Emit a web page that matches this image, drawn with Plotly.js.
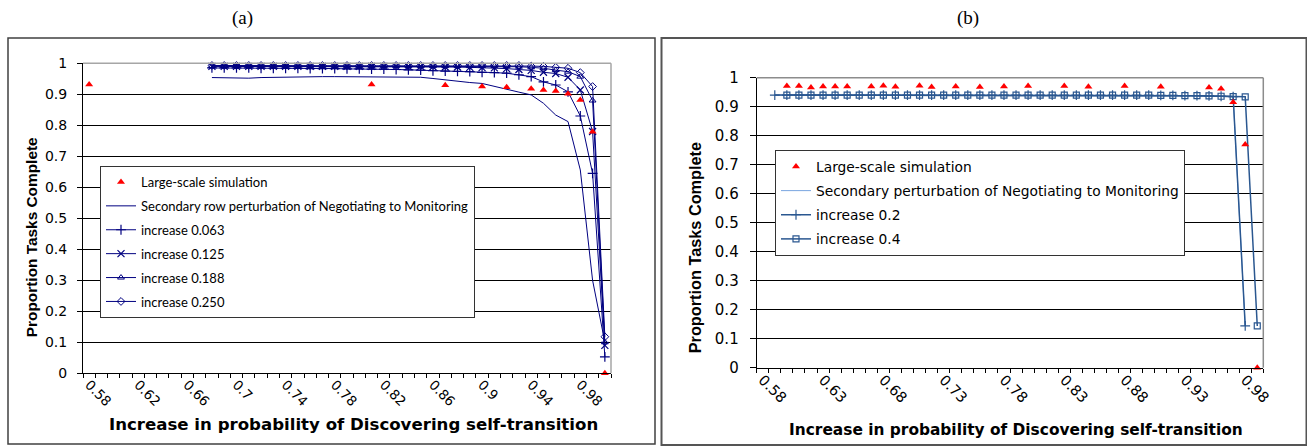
<!DOCTYPE html>
<html>
<head>
<meta charset="utf-8">
<script src="https://cdn.plot.ly/plotly-3.0.1.min.js"></script>
<style>html,body{margin:0;padding:0;background:#fff;}#chart{width:1307px;height:447px;}</style>
</head>
<body>
<div id="chart"></div>
<script>
// ---------- Panel (a) data ----------
const catsA = [0.68,0.69,0.70,0.71,0.72,0.73,0.74,0.75,0.76,0.77,0.78,0.79,0.80,0.81,0.82,0.83,0.84,0.85,0.86,0.87,0.88,0.89,0.90,0.91,0.92,0.93,0.94,0.95,0.96,0.97,0.98,0.99,1.00];
const simAx = [0.58,0.81,0.87,0.90,0.92,0.94,0.95,0.96,0.97,0.98,0.99,1.00];
const simAy = [0.932,0.932,0.929,0.925,0.923,0.918,0.914,0.911,0.902,0.882,0.779,0.0];
const secondaryA = [0.954,0.953,0.951,0.952,0.954,0.955,0.956,0.957,0.957,0.957,0.957,0.957,0.957,0.957,0.957,0.957,0.956,0.955,0.951,0.946,0.941,0.938,0.935,0.925,0.916,0.907,0.898,0.871,0.833,0.812,0.656,0.300,0.100];
const inc063 = [0.985,0.985,0.985,0.985,0.984,0.984,0.984,0.984,0.983,0.983,0.983,0.982,0.982,0.981,0.981,0.980,0.979,0.978,0.976,0.975,0.974,0.973,0.971,0.970,0.968,0.963,0.957,0.940,0.930,0.908,0.830,0.645,0.053];
const inc125 = [0.990,0.990,0.990,0.990,0.990,0.990,0.990,0.990,0.990,0.990,0.990,0.990,0.990,0.990,0.990,0.990,0.990,0.990,0.989,0.988,0.988,0.987,0.986,0.985,0.983,0.980,0.977,0.971,0.967,0.955,0.914,0.780,0.090];
const inc188 = [0.991,0.991,0.991,0.991,0.991,0.991,0.991,0.991,0.991,0.991,0.991,0.991,0.991,0.991,0.991,0.991,0.991,0.991,0.991,0.991,0.991,0.991,0.991,0.991,0.991,0.989,0.987,0.984,0.978,0.973,0.957,0.880,0.100];
const inc250 = [0.993,0.993,0.993,0.993,0.993,0.993,0.993,0.993,0.993,0.993,0.993,0.993,0.993,0.993,0.993,0.993,0.993,0.993,0.993,0.993,0.993,0.993,0.993,0.993,0.993,0.993,0.991,0.990,0.987,0.984,0.970,0.925,0.118];
const tickValsA = [0.58,0.62,0.66,0.70,0.74,0.78,0.82,0.86,0.90,0.94,0.98];
const tickTextA = ['0.58','0.62','0.66','0.7','0.74','0.78','0.82','0.86','0.9','0.94','0.98'];

// ---------- Panel (b) data ----------
const simBx = [0.60,0.61,0.62,0.63,0.64,0.65,0.67,0.68,0.69,0.71,0.72,0.74,0.76,0.78,0.80,0.83,0.85,0.88,0.91,0.95,0.96,0.97,0.98,0.99];
const simBy = [0.971,0.971,0.966,0.970,0.970,0.970,0.970,0.972,0.969,0.972,0.968,0.970,0.968,0.970,0.971,0.971,0.969,0.971,0.969,0.966,0.962,0.915,0.770,0.0];
const catsB2 = [0.59,0.60,0.61,0.62,0.63,0.64,0.65,0.66,0.67,0.68,0.69,0.70,0.71,0.72,0.73,0.74,0.75,0.76,0.77,0.78,0.79,0.80,0.81,0.82,0.83,0.84,0.85,0.86,0.87,0.88,0.89,0.90,0.91,0.92,0.93,0.94,0.95,0.96,0.97,0.98];
const secondaryB = [0.940,0.940,0.940,0.940,0.940,0.940,0.940,0.940,0.940,0.940,0.940,0.940,0.940,0.940,0.940,0.940,0.940,0.940,0.940,0.940,0.940,0.940,0.940,0.940,0.940,0.940,0.940,0.940,0.940,0.940,0.940,0.940,0.939,0.939,0.938,0.938,0.937,0.936,0.935,0.144];
const inc02 = [0.940,0.940,0.940,0.940,0.940,0.940,0.940,0.940,0.940,0.940,0.940,0.940,0.940,0.940,0.940,0.940,0.940,0.940,0.940,0.940,0.940,0.940,0.940,0.940,0.940,0.940,0.940,0.940,0.940,0.940,0.940,0.940,0.939,0.939,0.938,0.938,0.937,0.936,0.935,0.144];
const catsB4 = [0.60,0.61,0.62,0.63,0.64,0.65,0.66,0.67,0.68,0.69,0.70,0.71,0.72,0.73,0.74,0.75,0.76,0.77,0.78,0.79,0.80,0.81,0.82,0.83,0.84,0.85,0.86,0.87,0.88,0.89,0.90,0.91,0.92,0.93,0.94,0.95,0.96,0.97,0.98,0.99];
const inc04 = [0.940,0.940,0.940,0.940,0.940,0.940,0.940,0.940,0.940,0.940,0.940,0.940,0.940,0.940,0.940,0.940,0.940,0.940,0.940,0.940,0.940,0.940,0.940,0.940,0.940,0.940,0.940,0.940,0.940,0.940,0.940,0.939,0.939,0.938,0.938,0.937,0.936,0.935,0.934,0.144];
const tickValsB = [0.58,0.63,0.68,0.73,0.78,0.83,0.88,0.93,0.98];
const tickTextB = ['0.58','0.63','0.68','0.73','0.78','0.83','0.88','0.93','0.98'];

const NAVY = '#000080';
const BLUE = '#2a5790';
const LIGHT = '#7aa6e0';
const RED = '#ff0000';

const traces = [
  {x: simAx, y: simAy, name: 'Large-scale simulation', mode: 'markers', xaxis: 'x3', yaxis: 'y', legend: 'legend', legendgroup: 'a1', cliponaxis: false,
   marker: {symbol: 'triangle-up', color: RED, size: 7}},
  {x: catsA, y: secondaryA, name: 'Secondary row perturbation of Negotiating to Monitoring', mode: 'lines', xaxis: 'x', yaxis: 'y', legend: 'legend', legendgroup: 'a2',
   line: {color: NAVY, width: 1}},
  {x: catsA, y: inc063, name: 'increase 0.063', mode: 'lines+markers', xaxis: 'x', yaxis: 'y', legend: 'legend', legendgroup: 'a3', cliponaxis: false,
   line: {color: NAVY, width: 1}, marker: {symbol: 'cross-thin-open', size: 7, color: NAVY, line: {color: NAVY, width: 1.2}}},
  {x: catsA, y: inc125, name: 'increase 0.125', mode: 'lines+markers', xaxis: 'x', yaxis: 'y', legend: 'legend', legendgroup: 'a4', cliponaxis: false,
   line: {color: NAVY, width: 1}, marker: {symbol: 'x-thin-open', size: 7, color: NAVY, line: {color: NAVY, width: 1.2}}},
  {x: catsA, y: inc188, name: 'increase 0.188', mode: 'lines+markers', xaxis: 'x', yaxis: 'y', legend: 'legend', legendgroup: 'a5', cliponaxis: false,
   line: {color: NAVY, width: 1}, marker: {symbol: 'triangle-up-open', size: 6, color: NAVY, line: {color: NAVY, width: 1}}},
  {x: catsA, y: inc250, name: 'increase 0.250', mode: 'lines+markers', xaxis: 'x', yaxis: 'y', legend: 'legend', legendgroup: 'a6', cliponaxis: false,
   line: {color: NAVY, width: 1}, marker: {symbol: 'diamond-open', size: 6, color: NAVY, line: {color: NAVY, width: 1}}},

  {x: simBx, y: simBy, name: 'Large-scale simulation', mode: 'markers', xaxis: 'x4', yaxis: 'y2', legend: 'legend2', legendgroup: 'b1', cliponaxis: false,
   marker: {symbol: 'triangle-up', color: RED, size: 7}},
  {x: catsB2, y: secondaryB, name: 'Secondary perturbation of Negotiating to Monitoring', mode: 'lines', xaxis: 'x2', yaxis: 'y2', legend: 'legend2', legendgroup: 'b2',
   line: {color: LIGHT, width: 1}},
  {x: catsB2, y: inc02, name: 'increase 0.2', mode: 'lines+markers', xaxis: 'x2', yaxis: 'y2', legend: 'legend2', legendgroup: 'b3', cliponaxis: false,
   line: {color: BLUE, width: 1.5}, marker: {symbol: 'cross-thin-open', size: 7, color: BLUE, line: {color: BLUE, width: 1.2}}},
  {x: catsB4, y: inc04, name: 'increase 0.4', mode: 'lines+markers', xaxis: 'x2', yaxis: 'y2', legend: 'legend2', legendgroup: 'b4', cliponaxis: false,
   line: {color: BLUE, width: 1.5}, marker: {symbol: 'square-open', size: 6, color: BLUE, line: {color: BLUE, width: 1.2}}}
];

const W = 1307, H = 447;
const px = v => v / W;
const py = v => 1 - v / H;

// main x axis: category-boundary tick marks only (Excel style)
function xAxis(range, dom, anchor) {
  return {
    domain: dom, range: range, type: 'linear', anchor: anchor,
    tickmode: 'linear', tick0: 0.575, dtick: 0.01, ticks: 'outside', ticklen: 4, tickcolor: '#000', tickwidth: 1,
    showticklabels: false,
    showline: true, linecolor: '#000', linewidth: 1, showgrid: false, zeroline: false, fixedrange: true
  };
}
// overlay x axis (same range) carrying the rotated category labels
function xLabelAxis(range, over, anchor, tv, tt, fs) {
  return {
    overlaying: over, anchor: anchor, side: 'bottom', range: range, type: 'linear',
    tickmode: 'array', tickvals: tv, ticktext: tt, ticks: '', tickangle: 45,
    tickfont: {family: 'DejaVu Sans', size: fs, color: '#000'},
    showline: false, showgrid: false, zeroline: false, fixedrange: true
  };
}
function yAxis(dom, anchor, fs, tl, so) {
  return {
    domain: dom, anchor: anchor, range: [0, 1], dtick: 0.1, tick0: 0,
    ticks: 'outside', ticklen: tl, tickcolor: '#000', ticklabelstandoff: so,
    tickfont: {family: 'DejaVu Sans', size: fs, color: '#000'},
    showline: true, linecolor: '#000', linewidth: 1,
    showgrid: true, gridcolor: '#000', gridwidth: 1, zeroline: false, fixedrange: true
  };
}

const rangeA = [0.575, 1.005];
const rangeB = [0.575, 0.995];

const layout = {
  width: W, height: H, margin: {l: 0, r: 0, t: 0, b: 0},
  paper_bgcolor: '#fff', plot_bgcolor: '#fff',
  font: {family: 'DejaVu Sans', color: '#000'},
  showlegend: true,
  xaxis: xAxis(rangeA, [px(83), px(611)], 'y'),
  yaxis: yAxis([1 - 373.3 / H, 1 - 63.3 / H], 'x', 14, 5, 7),
  xaxis3: xLabelAxis(rangeA, 'x', 'y', tickValsA, tickTextA, 13.5),
  xaxis2: xAxis(rangeB, [px(756.7), px(1263.3)], 'y2'),
  yaxis2: yAxis([1 - 367.7 / H, 1 - 77.7 / H], 'x2', 15, 6, 8),
  xaxis4: xLabelAxis(rangeB, 'x2', 'y2', tickValsB, tickTextB, 14.5),
  legend: {x: px(100), y: py(166), xanchor: 'left', yanchor: 'top', bgcolor: '#fff', bordercolor: '#333', borderwidth: 1,
           font: {family: 'Lato', size: 13, color: '#000'}, traceorder: 'grouped', tracegroupgap: 4.0, itemclick: false},
  legend2: {x: px(775), y: py(150), xanchor: 'left', yanchor: 'top', bgcolor: '#fff', bordercolor: '#333', borderwidth: 1,
           font: {family: 'DejaVu Sans', size: 13.8, color: '#000'}, traceorder: 'grouped', tracegroupgap: 3.2, itemclick: false},
  shapes: [
    // plot-area frames (grey top/right edges)
    {type: 'line', xref: 'x domain', yref: 'y domain', x0: 0, x1: 1, y0: 1, y1: 1, line: {color: '#a6a6a6', width: 1.5}},
    {type: 'line', xref: 'x domain', yref: 'y domain', x0: 1, x1: 1, y0: 0, y1: 1, line: {color: '#a6a6a6', width: 1.5}},
    {type: 'line', xref: 'x2 domain', yref: 'y2 domain', x0: 0, x1: 1, y0: 1, y1: 1, line: {color: '#8c8c8c', width: 1.5}},
    {type: 'line', xref: 'x2 domain', yref: 'y2 domain', x0: 1, x1: 1, y0: 0, y1: 1, line: {color: '#8c8c8c', width: 1.5}},
    // outer chart borders
    {type: 'rect', xref: 'paper', yref: 'paper', x0: px(8), x1: px(655), y0: py(444), y1: py(38), line: {color: '#404040', width: 1.5}},
    {type: 'rect', xref: 'paper', yref: 'paper', x0: px(661.5), x1: px(1306.5), y0: py(445), y1: py(38), line: {color: '#555', width: 2}}
  ],
  annotations: [
    {text: '(a)', xref: 'paper', yref: 'paper', x: px(242), y: py(18), showarrow: false, xanchor: 'center', yanchor: 'middle',
     font: {family: 'Liberation Serif', size: 19, color: '#000'}},
    {text: '(b)', xref: 'paper', yref: 'paper', x: px(968), y: py(18), showarrow: false, xanchor: 'center', yanchor: 'middle',
     font: {family: 'Liberation Serif', size: 19, color: '#000'}},
    {text: 'Increase in probability of Discovering self-transition', xref: 'paper', yref: 'paper', x: px(353.3), y: py(424), showarrow: false,
     xanchor: 'center', yanchor: 'middle', font: {family: 'DejaVu Sans', size: 16.6, color: '#000', weight: 'bold'}},
    {text: 'Increase in probability of Discovering self-transition', xref: 'paper', yref: 'paper', x: px(1015.5), y: py(430), showarrow: false,
     xanchor: 'center', yanchor: 'middle', font: {family: 'DejaVu Sans', size: 15.4, color: '#000', weight: 'bold'}},
    {text: 'Proportion Tasks Complete', xref: 'paper', yref: 'paper', x: px(31.7), y: py(237.5), showarrow: false, textangle: -90,
     xanchor: 'center', yanchor: 'middle', font: {family: 'Liberation Sans', size: 15.4, color: '#000', weight: 'bold'}},
    {text: 'Proportion Tasks Complete', xref: 'paper', yref: 'paper', x: px(695), y: py(248.3), showarrow: false, textangle: -90,
     xanchor: 'center', yanchor: 'middle', font: {family: 'Liberation Sans', size: 16.3, color: '#000', weight: 'bold'}}
  ]
};

Plotly.newPlot('chart', traces, layout, {displayModeBar: false, staticPlot: true});
</script>
</body>
</html>
